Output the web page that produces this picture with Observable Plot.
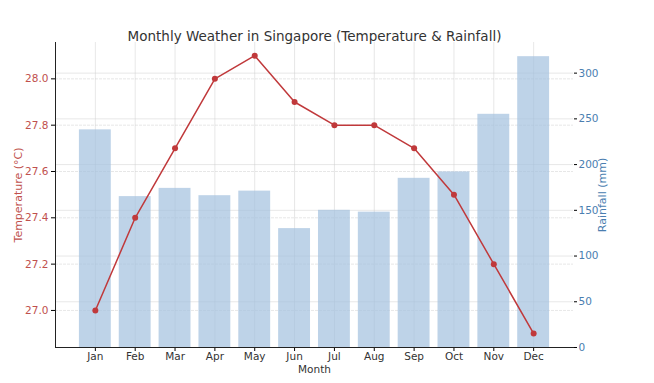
<!DOCTYPE html>
<html>
<head>
<meta charset="utf-8">
<script src="https://cdn.jsdelivr.net/npm/d3@7"></script>
<script src="https://cdn.jsdelivr.net/npm/@observablehq/plot@0.6"></script>
<style>
  body { margin: 0; background: #fff; }
  #chart svg { display: block; }
</style>
</head>
<body>
<div id="chart"></div>
<script>
const months = ["Jan","Feb","Mar","Apr","May","Jun","Jul","Aug","Sep","Oct","Nov","Dec"];
const temperature = [27.0, 27.4, 27.7, 28.0, 28.1, 27.9, 27.8, 27.8, 27.7, 27.5, 27.2, 26.9];
const rainfall = [238, 165, 174, 166, 171, 130, 150, 148, 185, 192, 255, 318];
const tempTicks = [27.0, 27.2, 27.4, 27.6, 27.8, 28.0];
const rainTicks = [0, 50, 100, 150, 200, 250, 300];

const tempDomain = [26.84, 28.157];
const rainDomain = [0, 333.5];
const toTemp = d3.scaleLinear().domain(rainDomain).range(tempDomain);

const data = months.map((m, i) => ({month: m, temp: temperature[i], rain: rainfall[i]}));

const red = "#c0393b";
const redText = "#c0504d";
const blueText = "#4a7eb0";
const font = "DejaVu Sans, sans-serif";

const chart = Plot.plot({
  width: 654,
  height: 383,
  marginLeft: 55,
  marginRight: 81,
  marginTop: 42,
  marginBottom: 36,
  style: {fontFamily: font, fontSize: "10.5px", background: "#fff"},
  x: {type: "band", domain: months, paddingInner: 0.2, paddingOuter: 0.6, round: false, label: null},
  y: {domain: tempDomain, label: null},
  marks: [
    // grids
    Plot.gridX(months, {stroke: "#ccc", strokeOpacity: 0.6, strokeWidth: 0.8}),
    Plot.gridY(tempTicks, {stroke: "#ccc", strokeOpacity: 0.6, strokeWidth: 0.8, strokeDasharray: "3,1"}),
    Plot.gridY(rainTicks.slice(1).map(toTemp), {stroke: "#ccc", strokeOpacity: 0.6, strokeWidth: 0.8}),
    // bars
    Plot.barY(data, {x: "month", y1: () => toTemp(0), y2: d => toTemp(d.rain), fill: "#a3c1de", fillOpacity: 0.7}),
    // line
    Plot.line(data, {x: "month", y: "temp", stroke: red, strokeWidth: 1.5}),
    Plot.dot(data, {x: "month", y: "temp", fill: red, r: 3}),
    // axes
    Plot.axisX({tickSize: 4, tickPadding: 1, fill: "#333", label: "Month", labelAnchor: "center", labelArrow: "none", labelOffset: 25}),
    Plot.frame({anchor: "bottom", stroke: "#222"}),
    Plot.frame({anchor: "left", stroke: "#222"}),
    Plot.axisY(tempTicks, {anchor: "left", tickSize: 4, tickPadding: 3, fill: redText, tickFormat: d3.format(".1f"), label: null}),
    Plot.axisY(rainTicks.map(toTemp), {anchor: "right", tickSize: 3, tickPadding: 2, fill: blueText, tickFormat: t => String(Math.round(toTemp.invert(t))), label: null}),
    Plot.text(["Temperature (°C)"], {frameAnchor: "left", dx: -37, rotate: -90, textAnchor: "middle", fill: redText, fontSize: 11}),
    Plot.text(["Rainfall (mm)"], {frameAnchor: "right", dx: 29, rotate: -90, textAnchor: "middle", fill: blueText, fontSize: 11}),
    Plot.text(["Monthly Weather in Singapore (Temperature & Rainfall)"], {frameAnchor: "top", dy: -11, fontSize: 13.5, fill: "#333", textAnchor: "middle"})
  ]
});
document.getElementById("chart").append(chart);
</script>
</body>
</html>
